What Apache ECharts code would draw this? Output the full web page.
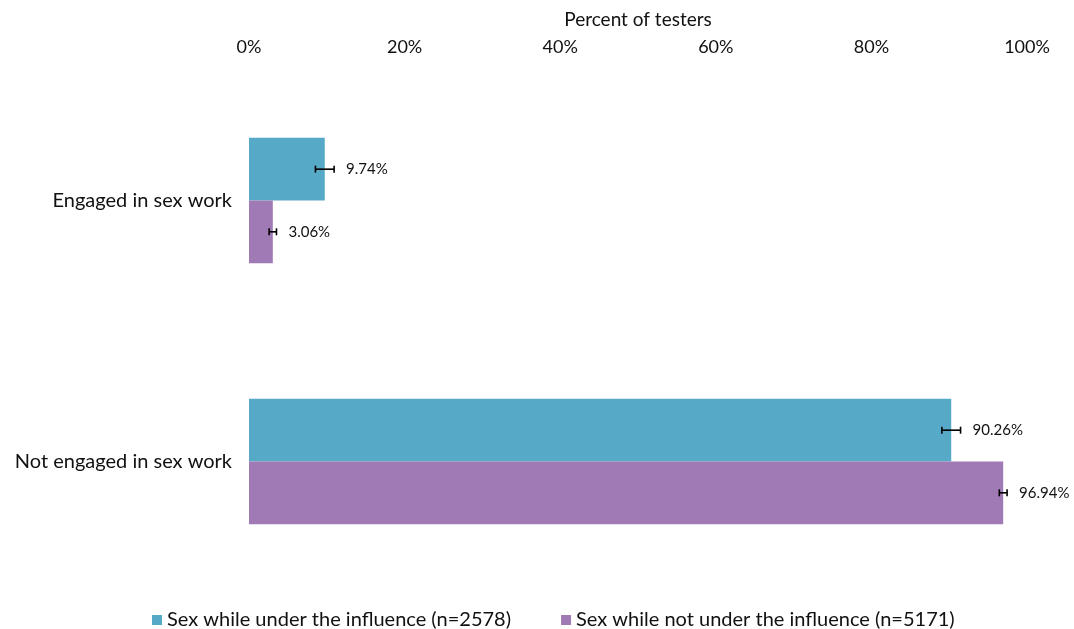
<!DOCTYPE html>
<html>
<head>
<meta charset="utf-8">
<script src="https://cdn.jsdelivr.net/npm/echarts@6/dist/echarts.min.js"></script>
<style>
  html, body { margin: 0; padding: 0; background: #fff; }
  #chart { width: 1074px; height: 629px; }
</style>
</head>
<body>
<div id="chart"></div>
<script>
var categories = ['Engaged in sex work', 'Not engaged in sex work'];
var seriesNames = ['Sex while under the influence (n=2578)', 'Sex while not under the influence (n=5171)'];
var underValues = [9.74, 90.26];
var underErr = [1.2, 1.2];
var notUnderValues = [3.06, 96.94];
var notUnderErr = [0.47, 0.5];
var colors = ['#56AAC8', '#A07AB5'];
var FONT = 'Lato, "Open Sans", sans-serif';

var chart = echarts.init(document.getElementById('chart'));

// 误差线 + 数值标签
function errorSeries(name, values, errs, side) {
  return {
    name: name,
    type: 'custom',
    z: 10,
    data: values.map(function (v, i) { return [i, v, v - errs[i], v + errs[i]]; }),
    encode: { x: [1, 2, 3], y: 0 },
    renderItem: function (params, api) {
      var cat = api.value(0);
      var band = api.size([0, 1])[1];
      var barW = band * 0.48 / 2;
      var c = api.coord([api.value(1), cat]);
      var y = c[1] + side * barW / 2;
      var lo = api.coord([api.value(2), cat])[0];
      var hi = api.coord([api.value(3), cat])[0];
      var st = { stroke: '#000', lineWidth: 1.6 };
      return {
        type: 'group',
        children: [
          { type: 'line', shape: { x1: lo, y1: y, x2: hi, y2: y }, style: st },
          { type: 'line', shape: { x1: lo, y1: y - 3.5, x2: lo, y2: y + 3.5 }, style: st },
          { type: 'line', shape: { x1: hi, y1: y - 3.5, x2: hi, y2: y + 3.5 }, style: st },
          { type: 'text', style: {
              x: hi + 12, y: y, text: api.value(1).toFixed(2) + '%',
              fill: '#111', font: '15px ' + FONT,
              textAlign: 'left', textVerticalAlign: 'middle' } }
        ]
      };
    }
  };
}

chart.setOption({
  animation: false,
  color: colors,
  grid: { left: 249, right: 47, top: 70, bottom: 37, containLabel: false, outerBoundsMode: 'none' },
  legend: {
    bottom: -6,
    left: 147,
    itemWidth: 10,
    itemHeight: 10,
    itemGap: 50,
    icon: 'rect',
    textStyle: { fontFamily: FONT, fontSize: 20, color: '#111' },
    data: seriesNames
  },
  xAxis: {
    type: 'value',
    position: 'top',
    min: 0,
    max: 100,
    interval: 20,
    name: 'Percent of testers',
    nameLocation: 'middle',
    nameGap: 41,
    nameTextStyle: { fontFamily: FONT, fontSize: 19, color: '#111' },
    axisLine: { show: false },
    axisTick: { show: false },
    splitLine: { show: false },
    axisLabel: { formatter: '{value}%', fontFamily: FONT, fontSize: 18, color: '#111', margin: 14 }
  },
  yAxis: {
    type: 'category',
    inverse: true,
    data: categories,
    axisLine: { show: false },
    axisTick: { show: false },
    axisLabel: { fontFamily: FONT, fontSize: 20, color: '#111', margin: 17 }
  },
  series: [
    { name: seriesNames[0], type: 'bar', data: underValues, barGap: '0%', barCategoryGap: '52%' },
    { name: seriesNames[1], type: 'bar', data: notUnderValues, barGap: '0%', barCategoryGap: '52%' },
    errorSeries(seriesNames[0], underValues, underErr, -1),
    errorSeries(seriesNames[1], notUnderValues, notUnderErr, 1)
  ]
});
</script>
</body>
</html>
